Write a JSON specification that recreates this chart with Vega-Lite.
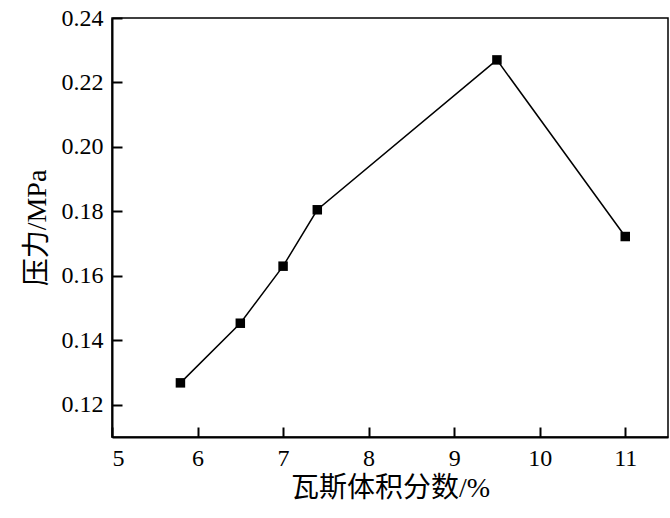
{
  "$schema": "https://vega.github.io/schema/vega-lite/v6.json",
  "autosize": "none",
  "width": 556,
  "height": 419,
  "padding": {"left": 112, "top": 18, "right": 2, "bottom": 81},
  "background": "white",
  "config": {
    "view": {"stroke": "black", "strokeWidth": 1.5}
  },
  "data": {
    "values": [
      {"x": 5.8, "y": 0.1268},
      {"x": 6.5, "y": 0.1453},
      {"x": 7.0, "y": 0.1630},
      {"x": 7.4, "y": 0.1805},
      {"x": 9.5, "y": 0.2270},
      {"x": 11.0, "y": 0.1722}
    ]
  },
  "mark": {"type": "line", "color": "black", "strokeWidth": 1.5, "point": {"shape": "square", "size": 90, "filled": true, "color": "black", "opacity": 1}},
  "encoding": {
    "x": {
      "field": "x", "type": "quantitative",
      "scale": {"domain": [5, 11.5], "nice": false, "zero": false},
      "axis": {"values": [5, 6, 7, 8, 9, 10, 11], "format": "d", "title": "瓦斯体积分数/%",
        "grid": false, "domainColor": "black", "domainWidth": 2, "tickColor": "black", "tickWidth": 2, "tickSize": -10,
        "labelColor": "black", "labelFont": "'Liberation Serif', 'Times New Roman', serif", "labelFontSize": 24, "labelPadding": 19,
        "titleFont": "'Liberation Serif', 'Noto Sans CJK SC', serif", "titleFontSize": 28, "titleFontWeight": "normal", "titleColor": "black", "titlePadding": 4}
    },
    "y": {
      "field": "y", "type": "quantitative",
      "scale": {"domain": [0.11, 0.24], "nice": false, "zero": false},
      "axis": {"values": [0.12, 0.14, 0.16, 0.18, 0.20, 0.22, 0.24], "format": ".2f", "title": "压力/MPa",
        "grid": false, "domainColor": "black", "domainWidth": 2, "tickColor": "black", "tickWidth": 2, "tickSize": -10,
        "labelColor": "black", "labelFont": "'Liberation Serif', 'Times New Roman', serif", "labelFontSize": 24, "labelPadding": 19,
        "titleFont": "'Liberation Serif', 'Noto Sans CJK SC', serif", "titleFontSize": 28, "titleFontWeight": "normal", "titleColor": "black", "titlePadding": 10}
    }
  }
}
